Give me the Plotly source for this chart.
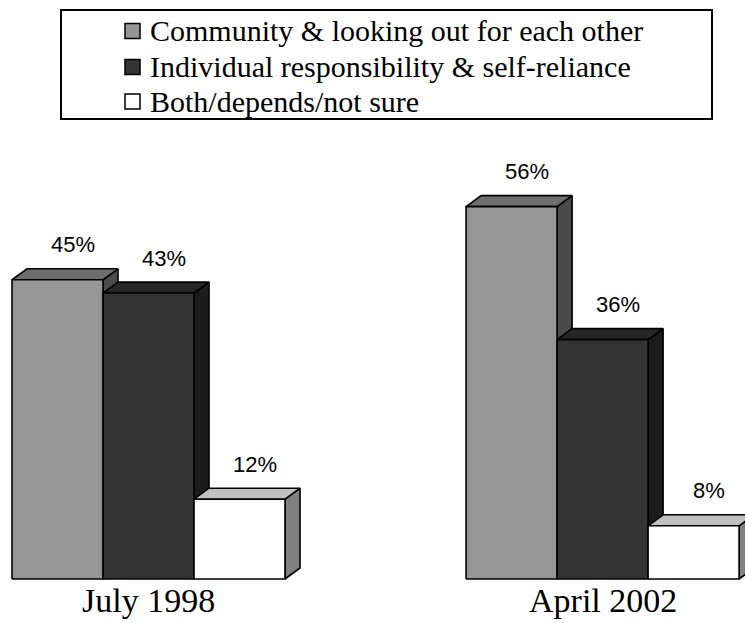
import plotly.graph_objects as go

# Survey data
periods = ["July 1998", "April 2002"]
series = [
    "Community & looking out for each other",
    "Individual responsibility & self-reliance",
    "Both/depends/not sure",
]
values = {
    "Community & looking out for each other": [45, 56],
    "Individual responsibility & self-reliance": [43, 36],
    "Both/depends/not sure": [12, 8],
}

# Face colours for each series: front, top, side
front_colors = ["#969696", "#333333", "#ffffff"]
top_colors = ["#6e6e6e", "#262626", "#c0c0c0"]
side_colors = ["#4b4b4b", "#1c1c1c", "#808080"]

W, H = 745, 623
BAR_W = 1.0          # front width of one bar (x units)
GROUP_STEP = 4.99    # distance between group starts (x units)
DX = 0.165           # 3D depth, x units
DY = 1.65            # 3D depth, value units

X_RANGE = [-0.132, 8.055]
Y_RANGE = [-6.62, 87.07]

fig = go.Figure()
edge = dict(color="#000000", width=1.6)

for g, period in enumerate(periods):
    for i, name in enumerate(series):
        v = values[name][g]
        x0 = g * GROUP_STEP + i * BAR_W
        x1 = x0 + BAR_W
        # side face
        fig.add_trace(go.Scatter(
            x=[x1, x1 + DX, x1 + DX, x1, x1],
            y=[0, DY, v + DY, v, 0],
            mode="lines", fill="toself", fillcolor=side_colors[i],
            line=edge, hoverinfo="skip", showlegend=False))
        # top face
        fig.add_trace(go.Scatter(
            x=[x0, x0 + DX, x1 + DX, x1, x0],
            y=[v, v + DY, v + DY, v, v],
            mode="lines", fill="toself", fillcolor=top_colors[i],
            line=edge, hoverinfo="skip", showlegend=False))
        # front face
        fig.add_trace(go.Scatter(
            x=[x0, x1, x1, x0, x0],
            y=[0, 0, v, v, 0],
            mode="lines", fill="toself", fillcolor=front_colors[i],
            line=edge, hoverinfo="skip", showlegend=False,
            name=name))
        # value label
        fig.add_annotation(
            x=(x0 + x1) / 2 + DX, y=v + DY, xref="x", yref="y",
            text=f"{v}%", showarrow=False, yanchor="middle", yshift=24,
            font=dict(family="Liberation Sans", size=22, color="#000000"))

    # period label beneath each group
    mid = g * GROUP_STEP + 1.5 * BAR_W
    fig.add_annotation(
        x=mid, y=0, xref="x", yref="y", text=period, showarrow=False,
        yanchor="top", yshift=-1,
        font=dict(family="Liberation Serif", size=34, color="#000000"))

# Legend box drawn at the top
def px(x):
    return x / W

def py(y):
    return 1 - y / H

shapes = [dict(type="rect", xref="paper", yref="paper",
               x0=px(61), x1=px(712), y0=py(119), y1=py(10),
               line=dict(color="#000000", width=2), fillcolor="rgba(0,0,0,0)")]
row_y = [31, 67, 101.5]
for i, name in enumerate(series):
    shapes.append(dict(type="rect", xref="paper", yref="paper",
                       x0=px(125), x1=px(140),
                       y0=py(row_y[i] + 7.5), y1=py(row_y[i] - 7.5),
                       line=dict(color="#000000", width=1.5),
                       fillcolor=front_colors[i]))
    fig.add_annotation(
        x=px(148), y=py(row_y[i]), xref="paper", yref="paper", text=name,
        showarrow=False, xanchor="left", yanchor="middle",
        font=dict(family="Liberation Serif", size=30, color="#000000"))

fig.update_layout(
    width=W, height=H,
    margin=dict(l=0, r=0, t=0, b=0),
    paper_bgcolor="#ffffff", plot_bgcolor="#ffffff",
    showlegend=False,
    shapes=shapes,
    xaxis=dict(range=X_RANGE, visible=False, fixedrange=True),
    yaxis=dict(range=Y_RANGE, visible=False, fixedrange=True),
)

fig.write_html("out.html")
